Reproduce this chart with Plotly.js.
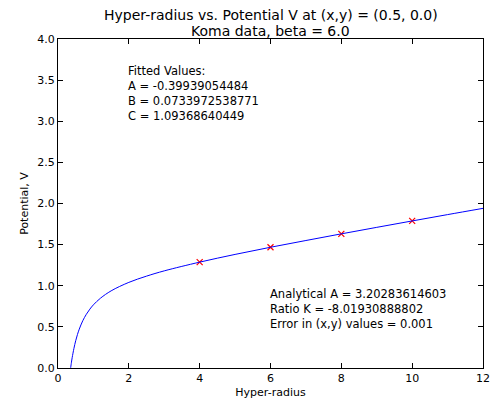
<!DOCTYPE html>
<html><head><meta charset="utf-8">
<script src="https://cdn.plot.ly/plotly-3.0.1.min.js"></script>
<style>html,body{margin:0;padding:0;background:#fff}</style>
</head><body><div id="chart" style="width:491px;height:403px"></div>
<script>
// fitted curve
var curveR = [0.357,0.36,0.38,0.4,0.45,0.5,0.55,0.6,0.7,0.8,0.9,1.0,1.2,1.5,2,2.5,3,4,5,6,7,8,9,10,11,12];
var curveV = [0.001,0.011,0.071,0.125,0.239,0.332,0.408,0.472,0.575,0.653,0.716,0.768,0.849,0.938,1.041,1.117,1.181,1.287,1.381,1.468,1.550,1.631,1.710,1.788,1.865,1.941];
// measured points
var dataR = [4,6,8,10];
var dataV = [1.287,1.468,1.631,1.788];
var titleLines = ["Hyper-radius vs. Potential V at (x,y) = (0.5, 0.0)","Koma data, beta = 6.0"];
var fitText = ["Fitted Values:","A = -0.39939054484","B = 0.0733972538771","C = 1.09368640449"];
var anaText = ["Analytical A = 3.20283614603","Ratio K = -8.01930888802","Error in (x,y) values = 0.001"];

var font = "DejaVu Sans, sans-serif";
var traces = [
  {x:dataR, y:dataV, mode:"markers", type:"scatter",
   marker:{symbol:"x-thin-open", size:6, color:"red", line:{color:"red", width:1.2}}},
  {x:curveR, y:curveV, mode:"lines", type:"scatter",
   line:{color:"blue", width:1, shape:"spline"}}
];
var axisCommon = {showgrid:false, zeroline:false, ticks:"inside", ticklen:5, tickcolor:"#000",
  mirror:"ticks", showline:true, linecolor:"#000", linewidth:1,
  tickfont:{family:font, size:11, color:"#000"}};
var layout = {
  width:491, height:403, showlegend:false,
  paper_bgcolor:"#fff", plot_bgcolor:"#fff",
  margin:{l:58, r:8, t:39, b:35},
  font:{family:font, color:"#000"},
  xaxis:Object.assign({}, axisCommon, {range:[0,12], tickvals:[0,2,4,6,8,10,12], ticktext:["0","2","4","6","8","10","12"],
    title:{text:"Hyper-radius", font:{family:font, size:11, color:"#000"}, standoff:4}}),
  yaxis:Object.assign({}, axisCommon, {range:[0,4], tickvals:[0,0.5,1,1.5,2,2.5,3,3.5,4],
    ticktext:["0.0","0.5","1.0","1.5","2.0","2.5","3.0","3.5","4.0"],
    title:{text:"Potential, V", font:{family:font, size:11, color:"#000"}, standoff:6}}),
  annotations:[
    {x:0.5, y:1.073, xref:"paper", yref:"paper", xanchor:"center", yanchor:"middle", showarrow:false,
     text:titleLines[0], font:{family:font, size:14, color:"#000"}},
    {x:0.5, y:1.024, xref:"paper", yref:"paper", xanchor:"center", yanchor:"middle", showarrow:false,
     text:titleLines[1], font:{family:font, size:14, color:"#000"}},
    {x:1.93, y:2.95, xref:"x", yref:"y", xanchor:"left", yanchor:"bottom", align:"left", showarrow:false,
     text:fitText.join("<br>"), font:{family:font, size:11.5, color:"#000"}},
    {x:5.93, y:0.43, xref:"x", yref:"y", xanchor:"left", yanchor:"bottom", align:"left", showarrow:false,
     text:anaText.join("<br>"), font:{family:font, size:11.5, color:"#000"}}
  ]
};
Plotly.newPlot("chart", traces, layout, {displayModeBar:false, staticPlot:true});
</script></body></html>
